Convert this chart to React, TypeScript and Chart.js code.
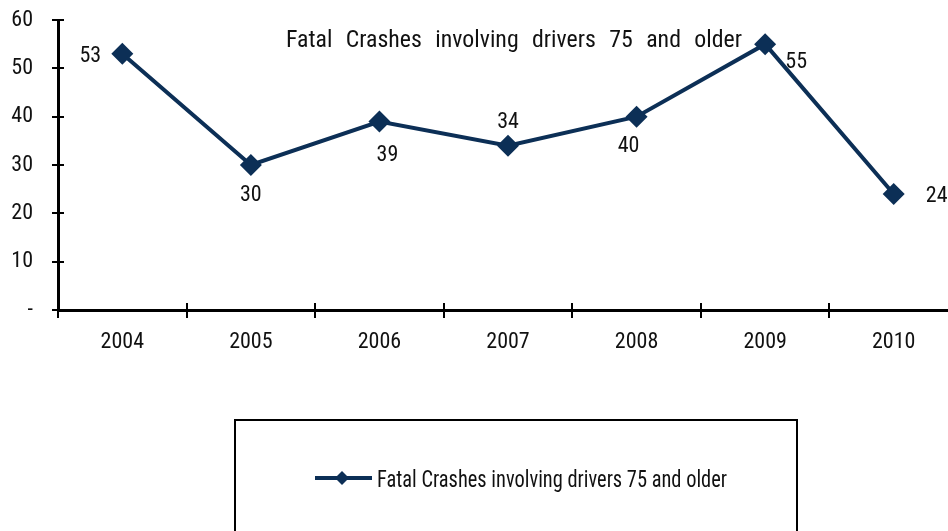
import React, { useEffect, useRef } from 'react';
import { Chart, registerables } from 'chart.js';

Chart.register(...registerables);

const categories = ['2004', '2005', '2006', '2007', '2008', '2009', '2010'];
const fatalCrashes = [53, 30, 39, 34, 40, 55, 24];
const seriesLabel = 'Fatal Crashes involving drivers 75 and older';
const chartTitle = 'Fatal Crashes involving drivers 75 and older';
const yMin = 0;
const yMax = 60;
const yStep = 10;

// label offsets (style) relative to each point
const labelOffsets: [number, number][] = [
  [-32, 3],
  [0, 30],
  [8, 34],
  [0, -23],
  [-8, 30],
  [31, 18],
  [43, 2],
];

const FONT = "'Roboto Condensed', 'Liberation Sans Narrow', 'Arial Narrow', 'Liberation Sans', sans-serif";
const LINE_COLOR = '#0C2F56';
const TEXT_COLOR = '#111';

function fitText(ctx: any, text: string, left: number, baseline: number, width: number, size: number, wordSpacing: number) {
  ctx.save();
  ctx.font = `${size}px ${FONT}`;
  try { ctx.wordSpacing = `${wordSpacing}px`; } catch (e) {}
  ctx.textAlign = 'left';
  ctx.textBaseline = 'alphabetic';
  const w = ctx.measureText(text).width;
  const sx = width / w;
  ctx.translate(left, baseline);
  ctx.scale(sx, 1);
  ctx.fillText(text, 0, 0);
  ctx.restore();
}

const overlayPlugin = {
  id: 'overlay',
  afterDatasetsDraw(chart: any) {
    const ctx = chart.ctx;
    const area = chart.chartArea;
    const meta = chart.getDatasetMeta(0);
    ctx.save();
    // inner halves of axis tick marks
    ctx.strokeStyle = '#000';
    ctx.lineWidth = 2;
    const ys = chart.scales.y;
    for (let v = yMin; v <= yMax; v += yStep) {
      const py = Math.round(ys.getPixelForValue(v));
      ctx.beginPath();
      ctx.moveTo(area.left, py);
      ctx.lineTo(area.left + 6, py);
      ctx.stroke();
    }
    for (let i = 0; i <= categories.length; i++) {
      const px = Math.round(area.left + (i * (area.right - area.left)) / categories.length);
      ctx.beginPath();
      ctx.moveTo(px, area.bottom);
      ctx.lineTo(px, area.bottom - 7);
      ctx.stroke();
    }
    // data labels
    ctx.fillStyle = TEXT_COLOR;
    ctx.font = `22px ${FONT}`;
    ctx.textAlign = 'center';
    ctx.textBaseline = 'middle';
    meta.data.forEach((pt: any, i: number) => {
      const [dx, dy] = labelOffsets[i];
      ctx.fillText(String(fatalCrashes[i]), pt.x + dx, pt.y + dy);
    });
    // title inside plot
    fitText(ctx, chartTitle, 286, 47, 456, 24, 8);
    // legend box
    ctx.strokeStyle = '#000';
    ctx.lineWidth = 2;
    ctx.strokeRect(235, 420, 562, 130);
    ctx.strokeStyle = LINE_COLOR;
    ctx.lineWidth = 4;
    ctx.beginPath();
    ctx.moveTo(315, 478);
    ctx.lineTo(372, 478);
    ctx.stroke();
    ctx.fillStyle = LINE_COLOR;
    ctx.beginPath();
    ctx.moveTo(342, 471);
    ctx.lineTo(349, 478);
    ctx.lineTo(342, 485);
    ctx.lineTo(335, 478);
    ctx.closePath();
    ctx.fill();
    ctx.fillStyle = TEXT_COLOR;
    fitText(ctx, seriesLabel, 377, 487, 350, 23, 0);
    ctx.restore();
  },
};

export default function App() {
  const ref = useRef<HTMLCanvasElement>(null);
  useEffect(() => {
    document.body.style.margin = '0';
    const chart = new Chart(ref.current!, {
      type: 'line',
      data: {
        labels: categories,
        datasets: [
          {
            label: seriesLabel,
            data: fatalCrashes,
            borderColor: LINE_COLOR,
            backgroundColor: LINE_COLOR,
            borderWidth: 4,
            pointStyle: 'rectRot',
            pointRadius: 11,
            pointBorderWidth: 0,
            tension: 0,
          },
        ],
      },
      options: {
        responsive: false,
        animation: false,
        layout: { padding: { left: 0, right: 2, top: 20, bottom: 0 } },
        plugins: { legend: { display: false }, title: { display: false }, tooltip: { enabled: false } },
        scales: {
          x: {
            offset: true,
            grid: { offset: true, drawOnChartArea: false, drawTicks: true, tickLength: 8, color: '#000', lineWidth: 2 },
            border: { color: '#000', width: 3 },
            ticks: { color: TEXT_COLOR, font: { family: FONT, size: 22 }, padding: 11, maxRotation: 0 },
            afterFit: (s: any) => {
              s.height = 221;
              s.paddingLeft = 0;
              s.paddingRight = 0;
            },
          },
          y: {
            min: yMin,
            max: yMax,
            grid: { drawOnChartArea: false, drawTicks: true, tickLength: 6, color: '#000', lineWidth: 2 },
            border: { color: '#000', width: 3 },
            ticks: {
              stepSize: yStep,
              color: TEXT_COLOR,
              font: { family: FONT, size: 22 },
              padding: 19,
              callback: (v: any) => (v === 0 ? '-' : String(v)),
            },
            afterFit: (s: any) => {
              s.width = 58;
              s.paddingTop = 0;
              s.paddingBottom = 0;
            },
          },
        },
      },
      plugins: [overlayPlugin],
    });
    return () => chart.destroy();
  }, []);
  return (
    <div style={{ position: 'absolute', left: 0, top: 0, width: 948, height: 531, overflow: 'hidden', background: '#fff' }}>
      <canvas ref={ref} width={969} height={531} />
    </div>
  );
}
